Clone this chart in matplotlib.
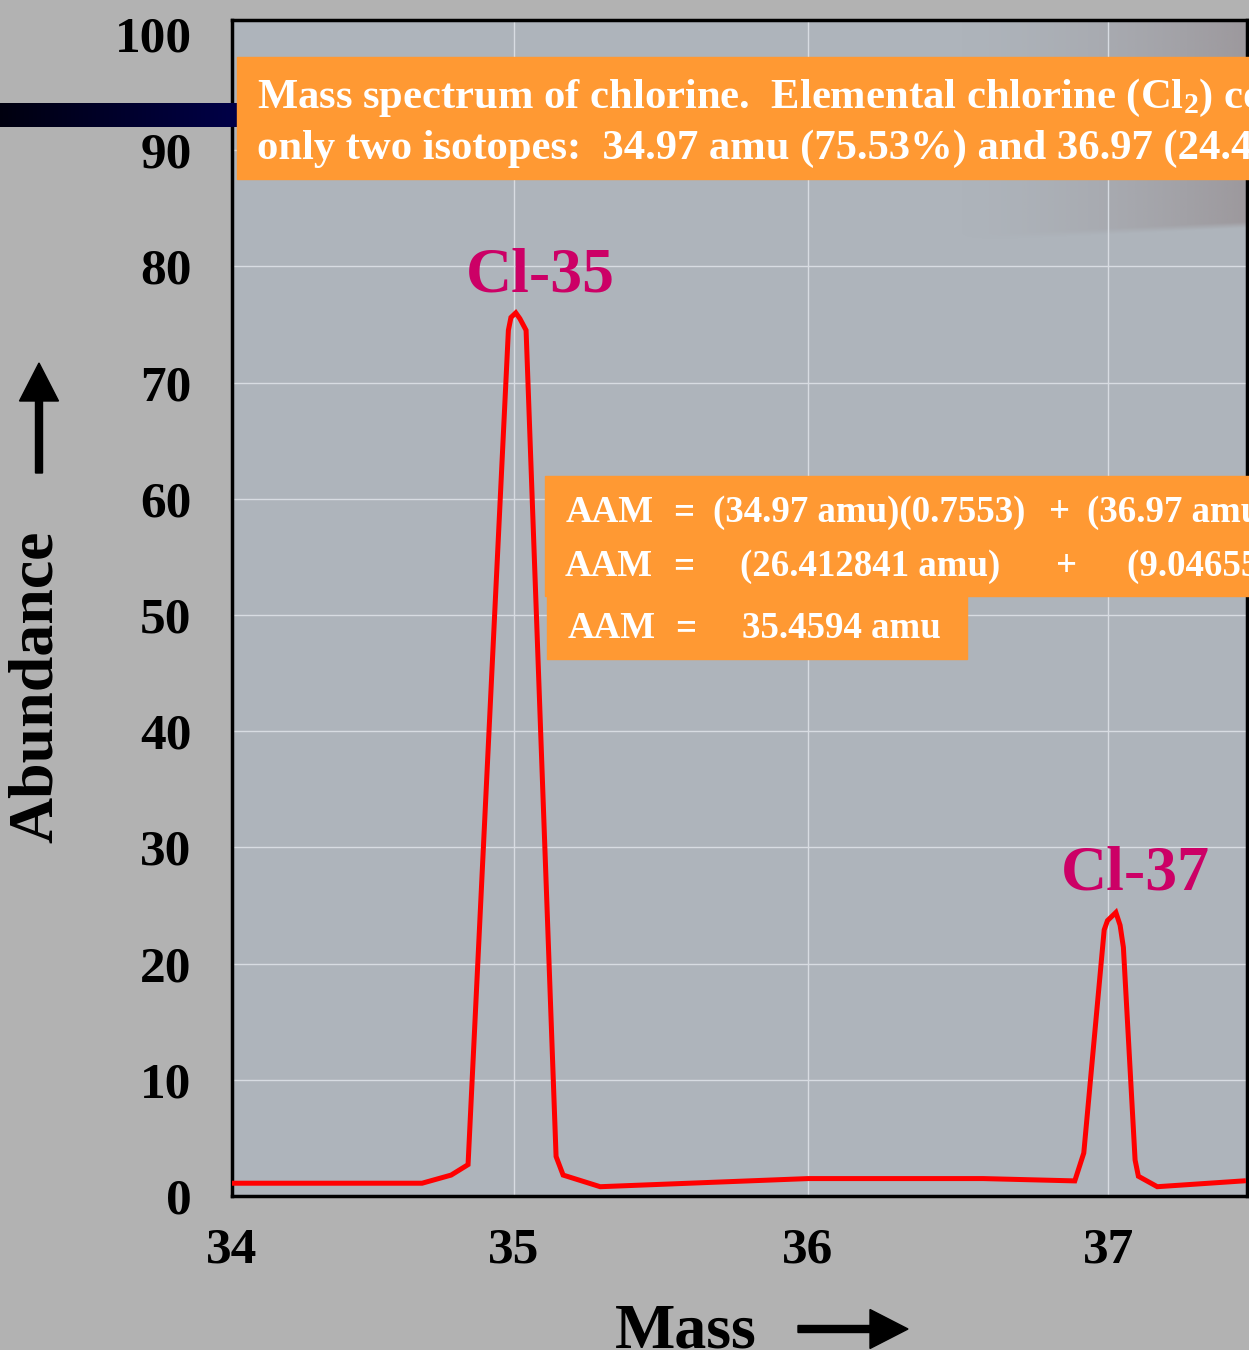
import numpy as np
import matplotlib
matplotlib.use("Agg")
import matplotlib.pyplot as plt
from matplotlib.patches import Rectangle, FancyArrow

plt.rcParams['font.family'] = ['Liberation Serif', 'DejaVu Serif']
plt.rcParams['font.weight'] = 'bold'
plt.rcParams['mathtext.fontset'] = 'custom'
plt.rcParams['mathtext.rm'] = 'Liberation Serif:bold'
plt.rcParams['mathtext.it'] = 'Liberation Serif:bold'
plt.rcParams['mathtext.bf'] = 'Liberation Serif:bold'

# ---------------- data ----------------
mass = [34.0, 34.674, 34.777, 34.837, 34.980, 34.989, 35.006, 35.020, 35.041,
        35.143, 35.167, 35.293, 36.0, 36.583, 36.889, 36.919, 36.987, 36.998,
        37.026, 37.040, 37.051, 37.090, 37.101, 37.164, 37.451]
abundance = [1.1, 1.1, 1.8, 2.7, 74.5, 75.6, 76.0, 75.5, 74.5,
             3.4, 1.8, 0.8, 1.5, 1.5, 1.3, 3.7, 22.9, 23.7,
             24.4, 23.3, 21.4, 3.1, 1.7, 0.8, 1.3]
x_ticks = [34, 35, 36, 37]
y_ticks = [0, 10, 20, 30, 40, 50, 60, 70, 80, 90, 100]
peak_labels = ["Cl-35", "Cl-37"]
title_lines = ["Mass spectrum of chlorine.  Elemental chlorine (Cl$_2$) contains",
               "only two isotopes:  34.97 amu (75.53%) and 36.97 (24.47%)"]
aam_label = "AAM"
aam_line1 = ["(34.97 amu)(0.7553)", "(36.97 amu)(0.2447)"]
aam_line2 = ["(26.412841 amu)", "(9.046559 amu)"]
aam_result = "35.4594 amu"
x_label = "Mass"
y_label = "Abundance"

# axis scale knots (the original axis is slightly non-uniform)
scale_mass = [33, 34, 35, 36, 37, 38]
scale_pos = [-282, 0, 282, 576, 876, 1176]

W, H = 1249, 1350
FIG_BG = '#b2b2b2'
AX_BG = '#aeb4bb'
ORANGE = '#ff9933'
MAGENTA = '#cc0066'

fig = plt.figure(figsize=(W / 100, H / 100), dpi=100, facecolor=FIG_BG)

def fx(px):
    return px / W

def fy(py):
    return 1 - py / H

ax_left, ax_right, ax_top, ax_bot = 232, 1247, 20, 1196
ax = fig.add_axes([fx(ax_left), fy(ax_bot), (ax_right - ax_left) / W, (ax_bot - ax_top) / H])
ax.set_facecolor(AX_BG)

def fwd(x):
    return np.interp(x, scale_mass, scale_pos)

def inv(p):
    return np.interp(p, scale_pos, scale_mass)

ax.set_xscale('function', functions=(fwd, inv))

# decorative gradient (slide background swoosh) in the top-right corner
g_px0, g_py0 = 900, 262          # left edge and bottom edge in pixels
gw, gh = 400, 300
gx = np.linspace(g_px0, ax_right, gw)
gy = np.linspace(g_py0, ax_top, gh)   # row 0 = bottom
GX, GY = np.meshgrid(gx, gy)
edge_y = 240 - 12 * np.clip((GX - 1000) / 247, 0, 1)   # curved lower edge (px)
soft = np.clip((edge_y - GY) / 6.0, 0, 1)
alpha = np.clip((GX - 950) / 297, 0, 1) ** 1.6 * 0.72 * soft
rgba = np.zeros((gh, gw, 4))
rgba[..., 0] = 150 / 255
rgba[..., 1] = 142 / 255
rgba[..., 2] = 145 / 255
rgba[..., 3] = alpha
g_x0 = (g_px0 - ax_left) / (ax_right - ax_left)
g_y0 = (ax_bot - g_py0) / (ax_bot - ax_top)
ax.imshow(rgba, extent=(g_x0, 1.0, g_y0, 1.0), origin='lower', transform=ax.transAxes,
          aspect='auto', zorder=0.2, interpolation='bilinear')

ax.plot(mass, abundance, color='#ff0000', lw=3.6, solid_joinstyle='miter', zorder=3)

ax.set_xlim(34, 37.463)
ax.set_ylim(0, 101.2)
ax.set_xticks(x_ticks)
ax.set_xticklabels([str(t) for t in x_ticks])
ax.set_yticks(y_ticks)
ax.set_yticklabels([str(t) for t in y_ticks])
ax.tick_params(axis='y', length=0, pad=29, labelsize=37)
ax.tick_params(axis='x', length=0, pad=23, labelsize=37)
for lab in ax.get_xticklabels() + ax.get_yticklabels():
    lab.set_fontweight('bold')
ax.set_axisbelow(True)
ax.grid(True, color='#d8dce2', lw=1.0)
ax.yaxis.get_gridlines()[-1].set_visible(False)
ax.xaxis.get_gridlines()[0].set_visible(False)
for s in ax.spines.values():
    s.set_linewidth(2.5)
    s.set_color('black')

# ---------------- overlay in pixel coordinates ----------------
ov = fig.add_axes([0, 0, 1, 1], zorder=10)
ov.set_xlim(0, W)
ov.set_ylim(H, 0)
ov.axis('off')
ov.patch.set_visible(False)

# navy bar with gradient
bar = np.linspace(0, 1, 256).reshape(1, -1)
navy = np.zeros((1, 256, 3))
navy[..., 2] = 0.06 + 0.22 * bar
ov.imshow(navy, extent=(0, 237, 127, 103), aspect='auto', zorder=1)

# title box
ov.add_patch(Rectangle((237, 57), W - 237 + 10, 122, color=ORANGE, zorder=2))
ov.text(257, 108, title_lines[0], fontsize=30.7, color='white', fontweight='bold',
        va='baseline', ha='left', zorder=3)
ov.text(257, 159, title_lines[1], fontsize=30.7, color='white', fontweight='bold',
        va='baseline', ha='left', zorder=3)

# AAM boxes
ov.add_patch(Rectangle((545, 476), W - 545 + 10, 120, color=ORANGE, zorder=2))
ov.add_patch(Rectangle((547, 590), 967 - 547, 69, color=ORANGE, zorder=2))
fs_aam = 26.6
def wtxt(x, y, s):
    ov.text(x, y, s, fontsize=fs_aam, color='white', fontweight='bold',
            va='baseline', ha='left', zorder=3)

wtxt(566, 522, aam_label)
wtxt(673, 522, "=")
wtxt(713, 522, aam_line1[0])
wtxt(1049, 522, "+")
wtxt(1087, 522, aam_line1[1])
wtxt(565, 576, aam_label)
wtxt(673, 576, "=")
wtxt(740, 576, aam_line2[0])
wtxt(1056, 576, "+")
wtxt(1127, 576, aam_line2[1])
wtxt(568, 638, aam_label)
wtxt(675, 638, "=")
wtxt(742, 638, aam_result)

# peak labels
ov.text(540, 292, peak_labels[0], fontsize=46, color=MAGENTA, fontweight='bold',
        ha='center', va='baseline', zorder=3)
ov.text(1135, 890, peak_labels[1], fontsize=46, color=MAGENTA, fontweight='bold',
        ha='center', va='baseline', zorder=3)

# axis labels with arrows
ov.text(37, 687, y_label, fontsize=46, rotation=90, fontweight='bold',
        ha='center', va='center', color='black', zorder=3)
ov.add_patch(FancyArrow(39, 473, 0, -110, width=7, head_width=39, head_length=38,
                        length_includes_head=True, color='black', zorder=3))
ov.text(615, 1347, x_label, fontsize=46, fontweight='bold',
        ha='left', va='baseline', color='black', zorder=3)
ov.add_patch(FancyArrow(798, 1329, 110, 0, width=7, head_width=39, head_length=38,
                        length_includes_head=True, color='black', zorder=3))

fig.savefig('out.png', dpi=100, facecolor=FIG_BG)
